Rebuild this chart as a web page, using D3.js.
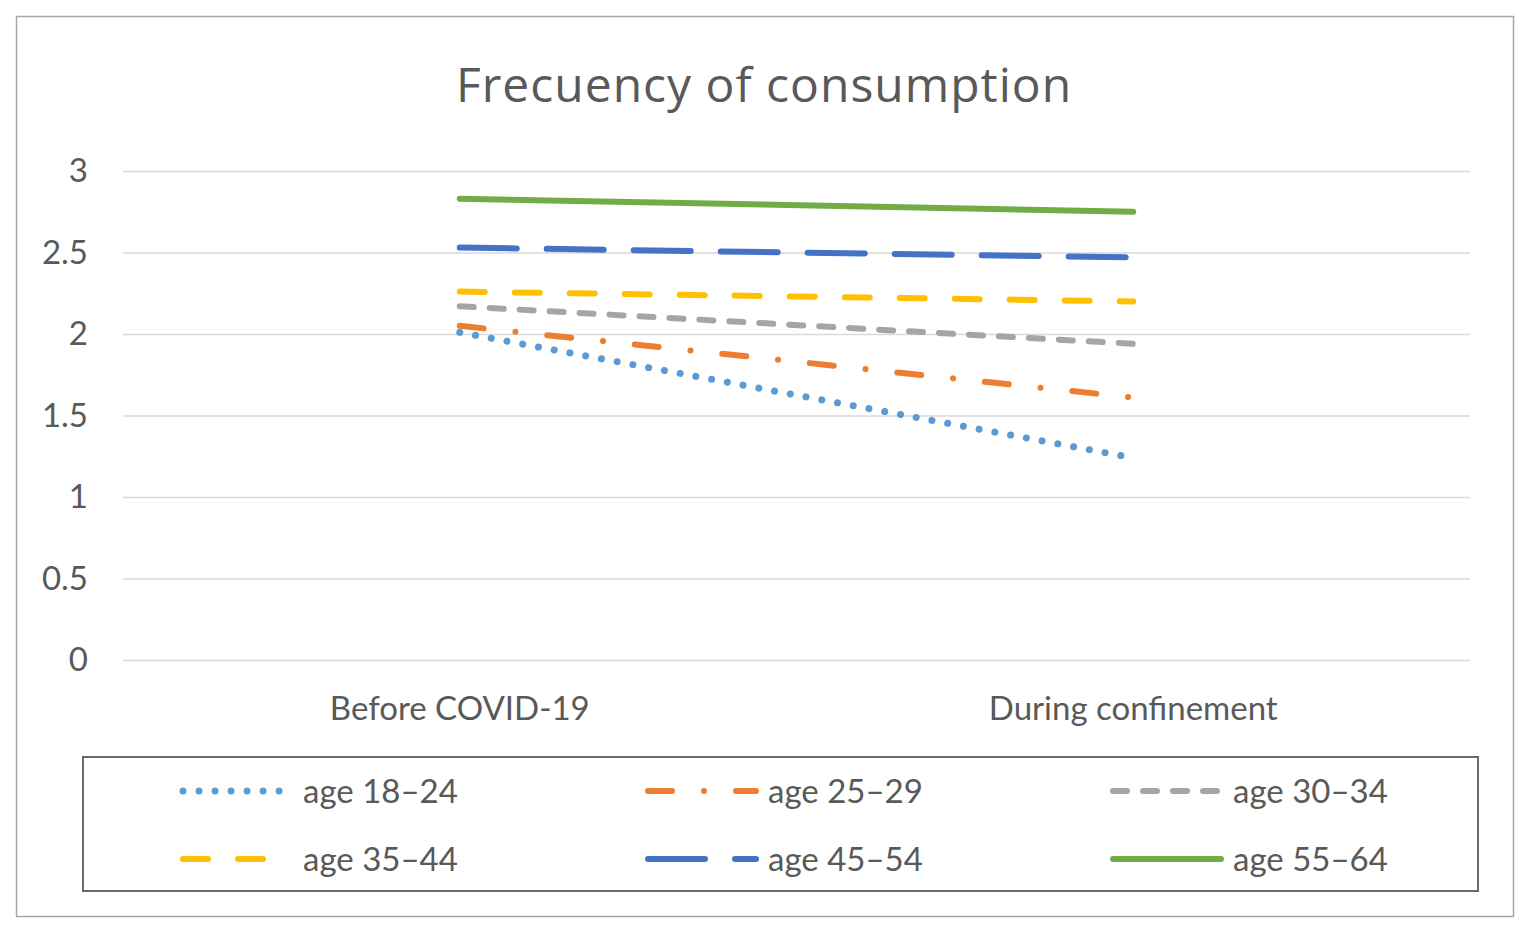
<!DOCTYPE html>
<html>
<head>
<meta charset="utf-8">
<script src="https://cdn.jsdelivr.net/npm/d3@7"></script>
<style>
  body { margin: 0; background: #fff; }
  svg text { fill: #595959; }
</style>
</head>
<body>
<div id="chart"></div>
<script>
// data
var periods = ["Before COVID-19", "During confinement"];
var groups = ["age 18–24", "age 25–29", "age 30–34", "age 35–44", "age 45–54", "age 55–64"];
var age18_24 = [2.01, 1.24];
var age25_29 = [2.05, 1.61];
var age30_34 = [2.17, 1.94];
var age35_44 = [2.26, 2.20];
var age45_54 = [2.53, 2.47];
var age55_64 = [2.83, 2.75];
var yTicks = [0, 0.5, 1, 1.5, 2, 2.5, 3];

var series = [age18_24, age25_29, age30_34, age35_44, age45_54, age55_64];
var colors = ["#5B9BD5", "#ED7D31", "#A5A5A5", "#FFC000", "#4472C4", "#70AD47"];
var dashes = ["0.01,16", "24,32,0.01,32", "14,16", "25,30", "57,30", null];
var widths = [7, 6, 6, 6, 6, 6];

var W = 1524, H = 931;
var svg = d3.select("#chart").append("svg")
  .attr("width", W).attr("height", H);

// outer chart frame
svg.append("rect")
  .attr("x", 16.5).attr("y", 16.5)
  .attr("width", 1497).attr("height", 900)
  .attr("fill", "#fff").attr("stroke", "#a6a6a6").attr("stroke-width", 1.5);

svg.append("text")
  .attr("x", 764).attr("y", 102)
  .attr("text-anchor", "middle")
  .style("font-family", "'Open Sans', sans-serif")
  .style("font-size", "48px")
  .style("letter-spacing", "1px")
  .text("Frecuency of consumption");

var x = d3.scaleBand().domain(periods).range([123, 1470]);
var y = d3.scaleLinear().domain([0, 3]).range([660, 171]);

// gridlines + y labels
var yAxis = svg.append("g")
  .attr("transform", "translate(123,0)")
  .call(d3.axisLeft(y).tickValues(yTicks).tickSize(-(1470 - 123)).tickPadding(35)
    .tickFormat(d3.format("")));
yAxis.select(".domain").remove();
yAxis.selectAll("line").attr("stroke", "#d9d9d9").attr("stroke-width", 1.5);
yAxis.selectAll("text")
  .style("font-family", "Lato, sans-serif").style("font-size", "33px");

// x labels
svg.append("g").selectAll("text")
  .data(periods).enter().append("text")
  .attr("x", function(d) { return x(d) + x.bandwidth() / 2; })
  .attr("y", 720)
  .attr("text-anchor", "middle")
  .style("font-family", "Lato, sans-serif").style("font-size", "33px")
  .text(function(d) { return d; });

var line = d3.line()
  .x(function(d, i) { return x(periods[i]) + x.bandwidth() / 2; })
  .y(function(d) { return y(d); });

svg.append("g").selectAll("path")
  .data(series).enter().append("path")
  .attr("d", line)
  .attr("fill", "none")
  .attr("stroke", function(d, i) { return colors[i]; })
  .attr("stroke-width", function(d, i) { return widths[i]; })
  .attr("stroke-linecap", "round")
  .attr("stroke-dasharray", function(d, i) { return dashes[i]; });

// legend
svg.append("rect")
  .attr("x", 83).attr("y", 757)
  .attr("width", 1395).attr("height", 134)
  .attr("fill", "none").attr("stroke", "#6b6b6b").attr("stroke-width", 2);

var leg = svg.append("g").selectAll("g")
  .data(groups).enter().append("g")
  .attr("transform", function(d, i) {
    return "translate(" + (183 + (i % 3) * 465) + "," + (791 + Math.floor(i / 3) * 68) + ")";
  });
leg.append("line")
  .attr("x1", 0).attr("x2", 108).attr("y1", 0).attr("y2", 0)
  .attr("stroke", function(d, i) { return colors[i]; })
  .attr("stroke-width", function(d, i) { return widths[i]; })
  .attr("stroke-linecap", "round")
  .attr("stroke-dasharray", function(d, i) { return dashes[i]; });
leg.append("text")
  .attr("x", 120).attr("y", 12)
  .style("font-family", "Lato, sans-serif").style("font-size", "33px")
  .text(function(d) { return d; });
</script>
</body>
</html>
